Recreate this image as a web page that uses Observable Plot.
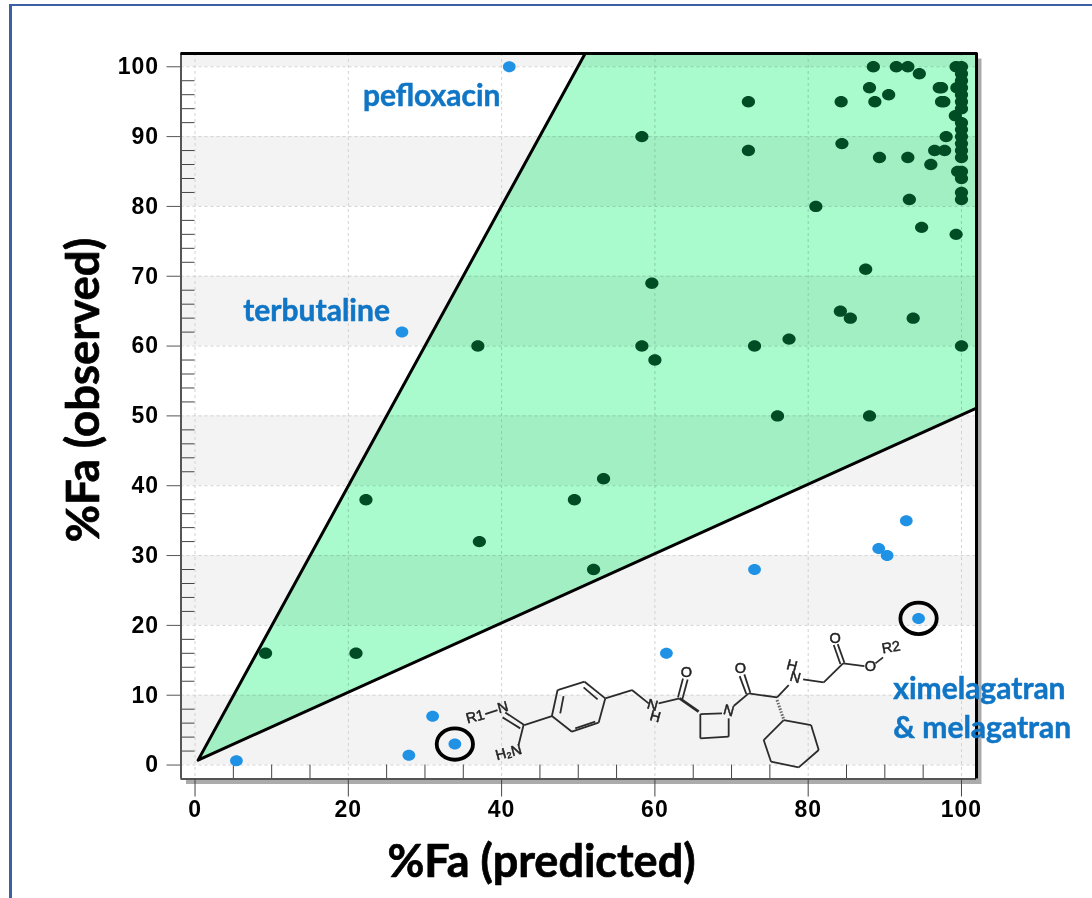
<!DOCTYPE html>
<html><head><meta charset="utf-8">
<script src="https://cdn.jsdelivr.net/npm/d3@7"></script>
<script src="https://cdn.jsdelivr.net/npm/@observablehq/plot@0.6"></script>
<style>
html,body{margin:0;padding:0;background:#fff;overflow:hidden;width:1092px;height:898px}
#page{position:absolute;left:9px;top:4px;right:0;bottom:0;border-left:3px solid #3c5fa6;border-top:2.5px solid #3c5fa6}
#chart{position:absolute;left:0;top:0}
svg{display:block}
g[aria-label="x-axis tick label"] text,g[aria-label="y-axis tick label"] text{letter-spacing:1px;-webkit-text-stroke:0.4px #000}
</style></head><body>
<div id="page"></div><div id="chart"></div>
<script>
// Compounds inside the two-fold wedge
const insideX = [88.5,91.5,93,94.5,88,90.5,84.3,88.7,97.1,97.4,97.4,97.7,99.2,98,84.4,96.5,97.8,89.3,93,96,93.2,81,94.8,99.3,
  100,100,100,100,100,100,100,100,100,100,100,100,100,100,100,100,100,99.3,99.4,99.5,
  72.2,58.3,72.2,87.5,59.6,84.2,85.5,93.7,77.5,58.3,36.9,73,100,60,76,88,53.3,22.3,49.5,37.1,52,9.2,21];
const insideY = [100,100,100,99,97,96,95,95,97,97,95,95,93,90,89,88,88,87,87,86,81,80,77,76,
  100,99,98,97,96,95,94,92,91,90,89,88,87,85,84,82,81,100,97,85,
  95,90,88,71,69,65,64,64,61,60,60,60,60,58,50,50,41,38,38,32,28,16,16];
// Compounds outside the wedge
const outsideX = [41,27,92.8,89.2,90.3,73,94.4,61.5,31,33.9,27.9,5.4];
const outsideY = [100,62,35,31,30,28,21,16,7,3,1.4,0.6];
// Circled compounds: melagatran and ximelagatran
const circledX = [33.9,94.4];
const circledY = [3,21];
// Wedge corners
const wedgeX = [0.4,50.9,101.96,101.96];
const wedgeY = [0.7,101.9,101.9,51.1];
// Named compounds
const nameText = ["pefloxacin","terbutaline","ximelagatran","& melagatran"];
const nameX = [21.9,6.3,91.1,91.1];
const nameY = [95.8,65.0,10.9,5.3];
// Axis settings
const xTicks = [0,20,40,60,80,100];
const yTicks = [0,10,20,30,40,50,60,70,80,90,100];
const xMinor = [5,10,15,25,30,35,45,50,55,65,70,75,85,90,95];
const yMinor = d3.range(0,100,2).filter(v => v % 10 !== 0);
const bandLow = [0,20,40,60,80,100];
const bandHigh = [10,30,50,70,90,101.9];
const xDomain = [-1.83,101.96];
const yDomain = [-2,101.9];

// Structure sketch, measured on a 3x grid of the picture
const bonds = [
 [195,282,232,270],[255,277,312,315],[247,292,300,325],[310,315,295,375],[312,315,395,288],
 [395,288,412,210],[412,210,493,185],[493,185,555,235],[555,235,535,308],[535,308,455,335],[455,335,395,288],
 [420,280,430,228],[490,202,532,238],[465,325,525,305],
 [555,235,635,210],[635,210,685,250],[715,250,778,235],
 [773,232,788,175],[786,238,802,178],
 [840,282,905,280],[925,295,925,350],[925,350,840,355],[840,355,840,282],
 [940,258,985,220],[990,218,972,163],[978,222,958,168],
 [985,220,1070,232],[1070,232,1105,195],[1148,178,1210,187],
 [1090,300,1172,315],[1172,315,1195,390],[1195,390,1135,442],[1135,442,1052,425],[1052,425,1030,360],[1030,360,1090,300],
 [1210,187,1268,130],[1272,128,1252,72],[1260,132,1240,75],[1268,130,1332,138],[1365,130,1388,112]
];
const heavyBond = [[778,235,835,275]];
const hashedBond = [[1070,240,1090,298]];
const atoms = [["R1",165,290,-15],["N",248,262,-15],["H\u2082N",265,397,-15],["N",697,255,15],["H",705,290,15],
 ["O",798,157,0],["N",925,272,15],["O",960,145,0],["N",1125,172,15],["H",1115,137,15],["O",1244,55,0],["O",1350,140,0],["R2",1412,82,-10]];
const mx = z => (420 + z/3 - 195) / 7.66;
const my = z => (765 - (620 + z/3)) / 6.985;
const linkOf = b => ({x1:mx(b[0]),y1:my(b[1]),x2:mx(b[2]),y2:my(b[3])});

const inside = insideX.map((x,i)=>({x,y:insideY[i]}));
const outside = outsideX.map((x,i)=>({x,y:outsideY[i]}));
const circled = circledX.map((x,i)=>({x,y:circledY[i]}));
const wedge = wedgeX.map((x,i)=>({x,y:wedgeY[i]}));
const names = nameText.map((t,i)=>({t,x:nameX[i],y:nameY[i]}));
const bands = bandLow.map((a,i)=>({a,b:bandHigh[i]}));

const flat = {
  draw(ctx,size){
    const r = Math.sqrt(size/Math.PI), a = r*1.1, b = r*0.95, k = 0.5523;
    ctx.moveTo(a,0);
    ctx.bezierCurveTo(a,k*b,k*a,b,0,b);
    ctx.bezierCurveTo(-k*a,b,-a,k*b,-a,0);
    ctx.bezierCurveTo(-a,-k*b,-k*a,-b,0,-b);
    ctx.bezierCurveTo(k*a,-b,a,-k*b,a,0);
    ctx.closePath();
  }
};
const sans = "'Liberation Sans',Arial,sans-serif";
const lato = "Lato,'Open Sans',sans-serif";

const plot = Plot.plot({
  width:1092, height:898,
  marginLeft:180.5, marginRight:116, marginTop:53, marginBottom:119.5,
  style:{background:"transparent",overflow:"visible"},
  x:{domain:xDomain,range:[180.5,976]},
  y:{domain:yDomain,range:[778.5,53]},
  marks:[
    Plot.frame({fill:"#ababab",stroke:"none",dx:5,dy:5}),
    Plot.frame({fill:"#fff",stroke:"none"}),
    Plot.rectY(bands,{x1:xDomain[0],x2:xDomain[1],y1:"a",y2:"b",fill:"#f3f3f3"}),
    Plot.ruleX(xTicks,{stroke:"#d2d2d2",strokeDasharray:"3,3",strokeWidth:1}),
    Plot.ruleY(yTicks,{stroke:"#d2d2d2",strokeDasharray:"3,3",strokeWidth:1}),
    Plot.ruleX(xMinor,{y1:yDomain[0],y2:0,stroke:"#444",strokeWidth:1}),
    Plot.ruleY(yMinor,{x1:xDomain[0],x2:0,stroke:"#444",strokeWidth:1}),
    Plot.line(wedge,{x:"x",y:"y",curve:"linear-closed",fill:"#a9fbcd",stroke:"#000",strokeWidth:3,mixBlendMode:"multiply"}),
    Plot.ruleX([xDomain[0]],{stroke:"#555",strokeWidth:2}),
    Plot.ruleY([yDomain[0]],{stroke:"#555",strokeWidth:2}),
    Plot.ruleY([yDomain[1]],{stroke:"#000",strokeWidth:3}),
    Plot.ruleX([xDomain[1]],{stroke:"#000",strokeWidth:3}),
    Plot.axisX({ticks:xTicks,tickSize:18,tickPadding:4,label:null,anchor:"bottom",fontSize:23,fontFamily:sans,fontWeight:"bold",color:"#000",stroke:"#444"}),
    Plot.axisY({ticks:yTicks,tickSize:14,tickPadding:8,label:null,anchor:"left",fontSize:23,fontFamily:sans,fontWeight:"bold",color:"#000",stroke:"#555"}),
    Plot.link(bonds.map(linkOf),{x1:"x1",y1:"y1",x2:"x2",y2:"y2",stroke:"#2b2b2b",strokeWidth:1.8}),
    Plot.link(heavyBond.map(linkOf),{x1:"x1",y1:"y1",x2:"x2",y2:"y2",stroke:"#2b2b2b",strokeWidth:2.8}),
    Plot.link(hashedBond.map(linkOf),{x1:"x1",y1:"y1",x2:"x2",y2:"y2",stroke:"#666",strokeWidth:3,strokeDasharray:"1.5,1.5"}),
    ...atoms.map(a=>Plot.text([a],{x:d=>mx(d[1]),y:d=>my(d[2]),text:d=>d[0],rotate:a[3],fontSize:14.5,fontFamily:sans,fill:"#222",stroke:"#222",strokeWidth:0.5})),
    Plot.dot(inside,{x:"x",y:"y",r:6,symbol:flat,fill:"#004d25",stroke:"none"}),
    Plot.dot(outside,{x:"x",y:"y",r:5.8,symbol:flat,fill:"#1f92e6",stroke:"none"}),
    Plot.dot(circled,{x:"x",y:"y",r:16.5,symbol:flat,fill:"none",stroke:"#000",strokeWidth:3.8}),
    Plot.text(names,{x:"x",y:"y",text:"t",textAnchor:"start",fontSize:30,fontFamily:lato,fontWeight:"bold",fill:"#0f75c4",stroke:"#0f75c4",strokeWidth:0.5}),
    Plot.text(["%Fa (predicted)"],{x:[45.2],y:[-14],text:d=>d,fontSize:45,fontFamily:lato,fontWeight:"bold",fill:"#000",stroke:"#000",strokeWidth:0.7}),
    Plot.text(["%Fa (observed)"],{x:[-14.4],y:[53.7],text:d=>d,rotate:-90,fontSize:45.5,fontFamily:lato,fontWeight:"bold",fill:"#000",stroke:"#000",strokeWidth:0.7})
  ]
});
document.getElementById("chart").appendChild(plot);
</script>
</body></html>
